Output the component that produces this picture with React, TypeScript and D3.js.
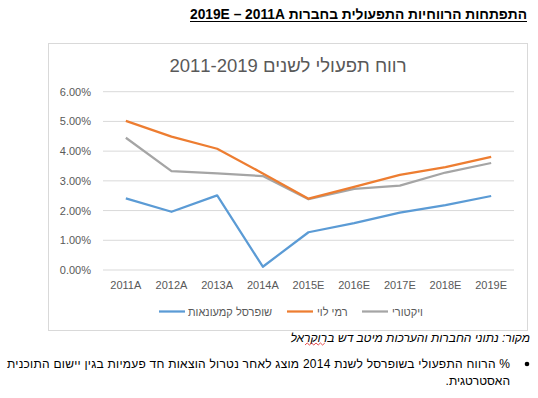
import * as d3 from 'd3'

const years = ['2011A', '2012A', '2013A', '2014A', '2015E', '2016E', '2017E', '2018E', '2019E']
const shufersal = [2.41, 1.96, 2.51, 0.11, 1.27, 1.58, 1.93, 2.18, 2.49]
const ramiLevy = [5.02, 4.49, 4.08, 3.25, 2.4, 2.8, 3.2, 3.46, 3.81]
const victory = [4.45, 3.33, 3.25, 3.16, 2.38, 2.73, 2.84, 3.28, 3.6]
const yTicks = [0, 1, 2, 3, 4, 5, 6]

const series = [
  { name: 'שופרסל קמעונאות', values: shufersal, color: '#5B9BD5' },
  { name: 'רמי לוי', values: ramiLevy, color: '#ED7D31' },
  { name: 'ויקטורי', values: victory, color: '#A5A5A5' },
]

const FONT = '"Liberation Sans", Arial, sans-serif'

export default function App() {
  const x = d3.scaleBand<string>().domain(years).range([103, 514])
  const y = d3.scaleLinear().domain([0, 6]).range([270, 91.7])
  const line = d3
    .line<number>()
    .x((_, i) => x(years[i])! + x.bandwidth() / 2)
    .y(d => y(d))

  // legend item positions (line start x, text start x)
  const legendPos = [
    { lx: 159, tx: 188 },
    { lx: 287, tx: 317 },
    { lx: 362, tx: 392 },
  ]

  return (
    <svg
      width={538}
      height={398}
      style={{ position: 'absolute', left: 0, top: 0, background: '#fff' }}
      fontFamily={FONT}
    >
      {/* page heading */}
      <text
        x={527}
        y={19}
        direction="rtl"
        textAnchor="start"
        fontSize={14}
        fontWeight="bold"
        fill="#000"
        textLength={337}
        lengthAdjust="spacingAndGlyphs"
      >
        התפתחות הרווחיות התפעולית בחברות 2019E – 2011A
      </text>
      <line x1={190} x2={527} y1={21.5} y2={21.5} stroke="#000" strokeWidth={1} />

      {/* chart box */}
      <rect x={48.5} y={43.5} width={479} height={287} fill="#fff" stroke="#d9d9d9" />
      <text
        x={288}
        y={72}
        direction="rtl"
        textAnchor="middle"
        fontSize={18.5}
        fill="#595959"
      >
        רווח תפעולי לשנים 2011-2019
      </text>

      {/* grid + y axis */}
      {yTicks.map(t => (
        <g key={t}>
          <line x1={103} x2={514} y1={y(t)} y2={y(t)} stroke="#d9d9d9" strokeWidth={1} />
          <text x={91} y={y(t) + 4} textAnchor="end" fontSize={11} fill="#595959">
            {t.toFixed(2)}%
          </text>
        </g>
      ))}

      {/* x axis labels */}
      {years.map(yr => (
        <text
          key={yr}
          x={x(yr)! + x.bandwidth() / 2}
          y={289}
          textAnchor="middle"
          fontSize={11}
          fill="#595959"
        >
          {yr}
        </text>
      ))}

      {/* lines: draw gray first, then orange, then blue */}
      {[...series].reverse().map(s => (
        <path
          key={s.name}
          d={line(s.values)!}
          fill="none"
          stroke={s.color}
          strokeWidth={2.25}
          strokeLinejoin="round"
        />
      ))}

      {/* legend */}
      {series.map((s, i) => (
        <g key={s.name}>
          <line
            x1={legendPos[i].lx}
            x2={legendPos[i].lx + 26}
            y1={311.5}
            y2={311.5}
            stroke={s.color}
            strokeWidth={2.25}
          />
          <text
            x={legendPos[i].tx}
            y={315.5}
            direction="rtl"
            textAnchor="end"
            fontSize={11}
            fill="#595959"
          >
            {s.name}
          </text>
        </g>
      ))}

      {/* source */}
      <text
        x={530}
        y={342}
        direction="rtl"
        textAnchor="start"
        fontSize={12}
        fontStyle="italic"
        fill="#000"
      >
        מקור: נתוני החברות והערכות מיטב דש ברוקראל
      </text>
      <path
        d={d3.range(0, 10).map(i => `${i === 0 ? 'M' : 'L'}${305 + i * 2.2},${i % 2 ? 343 : 345}`).join('')}
        fill="none"
        stroke="#e02020"
        strokeWidth={0.8}
      />

      {/* bullet note */}
      <circle cx={527} cy={364} r={2.3} fill="#000" />
      <text
        x={510}
        y={368}
        direction="rtl"
        textAnchor="start"
        fontSize={12}
        fill="#000"
        textLength={503}
        lengthAdjust="spacing"
      >
        % הרווח התפעולי בשופרסל לשנת 2014 מוצג לאחר נטרול הוצאות חד פעמיות בגין יישום התוכנית
      </text>
      <text x={510} y={385} direction="rtl" textAnchor="start" fontSize={12} fill="#000">
        האסטרטגית.
      </text>
    </svg>
  )
}
